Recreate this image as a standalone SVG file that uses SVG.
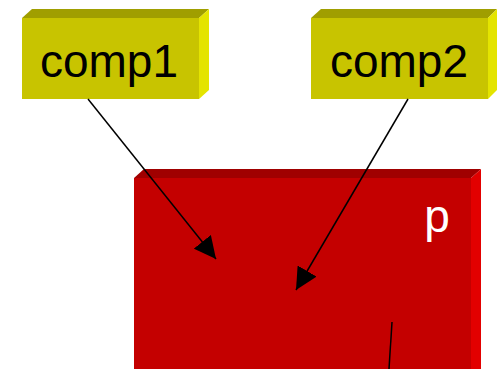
<svg xmlns="http://www.w3.org/2000/svg" width="499" height="369" viewBox="0 0 499 369">
  <style>
    .lbl { font-family: "Liberation Sans", Arial, sans-serif; font-size: 46px; text-anchor: middle; }
    .yf { fill: #c8c400; }
    .yt { fill: #a09e00; }
    .ys { fill: #e4e400; }
    .rf { fill: #c40000; }
    .rt { fill: #a00000; }
    .rs { fill: #e20000; }
    .edge { stroke: #000; stroke-width: 1.5; fill: none; }
  </style>
  <defs>
    <marker id="arrow" markerUnits="userSpaceOnUse" markerWidth="24" markerHeight="22" refX="22" refY="11" orient="auto">
      <path d="M0,0 L22,11 L0,22 Z" fill="#000"/>
    </marker>
  </defs>
  <rect width="499" height="369" fill="#fff"/>

  <!-- container block p -->
  <g id="p">
    <polygon class="rt" points="134,178 144,169 481,169 471,178"/>
    <polygon class="rs" points="471,178 481,169 481,369 471,369"/>
    <rect class="rf" x="134" y="178" width="337" height="191"/>
    <text class="lbl" x="437" y="232" fill="#fff">p</text>
  </g>

  <!-- component blocks -->
  <g id="comp1">
    <polygon class="yt" points="22,18 32,9 209,9 199,18"/>
    <polygon class="ys" points="199,18 209,9 209,90 199,99"/>
    <rect class="yf" x="22" y="18" width="177" height="81"/>
    <text class="lbl" x="109" y="77" fill="#000">comp1</text>
  </g>
  <g id="comp2">
    <polygon class="yt" points="311,18 321,9 497,9 488,18"/>
    <polygon class="ys" points="488,18 497,9 497,90 488,99"/>
    <rect class="yf" x="311" y="18" width="177" height="81"/>
    <text class="lbl" x="399" y="77" fill="#000">comp2</text>
  </g>

  <!-- connectors -->
  <g id="edges">
    <line class="edge" x1="88" y1="99" x2="216" y2="259" marker-end="url(#arrow)"/>
    <line class="edge" x1="408" y1="99" x2="296" y2="290" marker-end="url(#arrow)"/>
    <line class="edge" x1="392" y1="322" x2="389" y2="369"/>
  </g>
</svg>
